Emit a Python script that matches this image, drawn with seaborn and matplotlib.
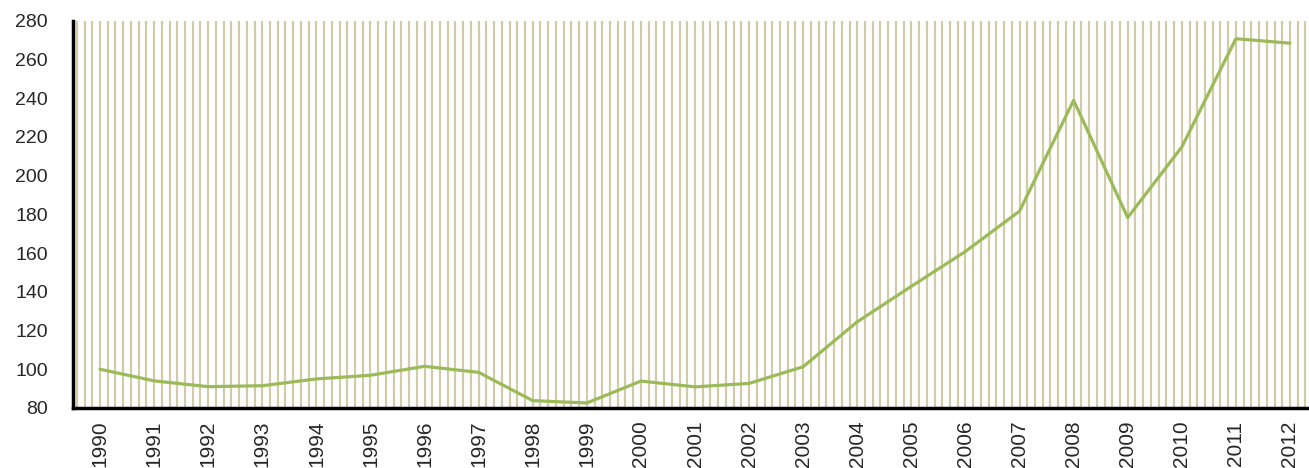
import numpy as np
import pandas as pd
import matplotlib
matplotlib.use("Agg")
import matplotlib.pyplot as plt
import seaborn as sns

years = [str(y) for y in range(1990, 2013)]
values = [100, 94, 91, 91.5, 95, 96.9, 101.5, 98.4, 83.8, 82.6, 93.9, 90.9, 92.7,
          101.3, 124.5, 142.8, 160.8, 181.6, 238.8, 178.3, 214.7, 270.6, 268.3]
y_ticks = list(range(80, 281, 20))

df = pd.DataFrame({"pos": np.arange(len(years)), "value": values})

sns.set_style("white")
plt.rcParams['font.family'] = ['Liberation Sans', 'DejaVu Sans']

fig = plt.figure(figsize=(13.09, 4.68), dpi=100)
ax = fig.add_axes([73/1309, 60/468, 1244/1309, 387.5/468])

n = len(years)
# background vertical stripe pattern
stripes = -0.5 + (np.arange(n * 7) + 0.5) / 7
ax.vlines(stripes, 80, 280, colors="#d2cbaa", linewidth=1.6, zorder=0)

sns.lineplot(data=df, x="pos", y="value", ax=ax, color="#9bbb59", linewidth=2.3,
             zorder=3)

ax.set_xlim(-0.5, n - 0.5)
ax.set_ylim(80, 280)
ax.set_yticks(y_ticks)
ax.set_yticklabels([str(t) for t in y_ticks], fontsize=14)
ax.set_xticks(np.arange(n))
ax.set_xticklabels(years, rotation=90, fontsize=15)
ax.set_xticks(np.arange(n + 1) - 0.5, minor=True)
ax.tick_params(axis="x", which="major", length=0, pad=9)
ax.tick_params(axis="x", which="minor", length=4, width=2, direction="out", color="black")
ax.tick_params(axis="y", which="major", length=6, width=2, direction="out", color="black", pad=12)
ax.set_xlabel("")
ax.set_ylabel("")

for s in ["top", "right"]:
    ax.spines[s].set_visible(False)
for s in ["left", "bottom"]:
    ax.spines[s].set_visible(True)
    ax.spines[s].set_color("black")
    ax.spines[s].set_linewidth(2.5)

fig.savefig("out.png", dpi=100)
